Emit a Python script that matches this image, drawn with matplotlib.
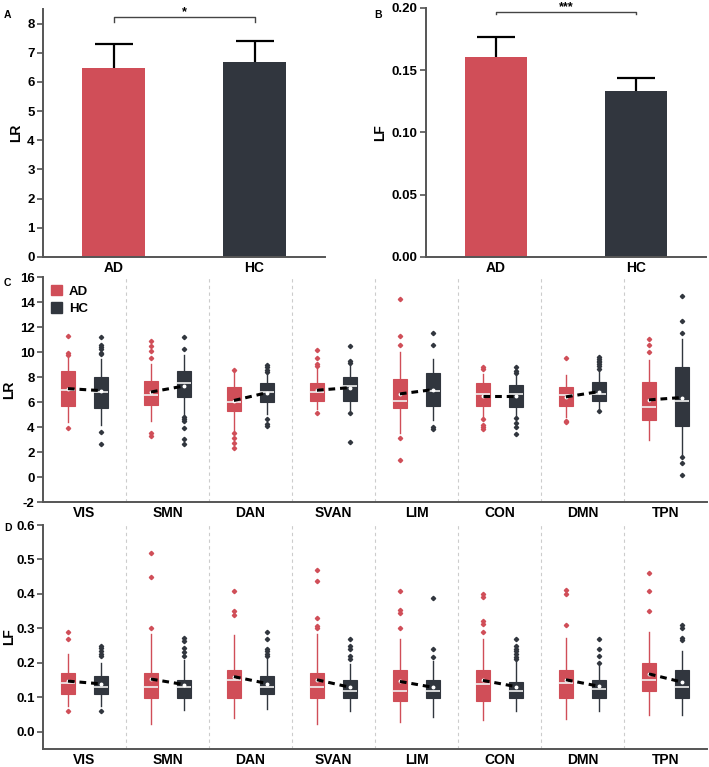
import matplotlib
matplotlib.use("Agg")
import matplotlib.pyplot as plt
from matplotlib.patches import Patch
import numpy as np

plt.rcParams['font.family'] = ['Liberation Sans', 'DejaVu Sans']
plt.rcParams['font.weight'] = 'bold'

AD_COLOR = '#D04E58'
HC_COLOR = '#31363E'

groups = ['AD', 'HC']
networks = ['VIS', 'SMN', 'DAN', 'SVAN', 'LIM', 'CON', 'DMN', 'TPN']

# Panel A / B bar values (mean, error)
lr_mean = [6.48, 6.70]
lr_err = [0.82, 0.72]
lf_mean = [0.161, 0.133]
lf_err = [0.016, 0.011]

# Panel C (LR) box stats per network: [whislo, q1, med, q3, whishi, mean]
lr_ad_stats = [
    [4.4, 5.67, 6.99, 8.50, 9.5, 7.07],
    [4.48, 5.77, 6.59, 7.68, 9.05, 6.80],
    [3.76, 5.30, 6.04, 7.20, 8.50, 6.12],
    [5.48, 6.09, 6.80, 7.52, 8.66, 6.94],
    [3.5, 5.56, 6.12, 7.84, 10.0, 6.65],
    [4.69, 5.72, 6.67, 7.52, 8.26, 6.49],
    [4.82, 5.69, 6.57, 7.20, 8.13, 6.41],
    [2.97, 4.56, 5.61, 7.60, 9.37, 6.17],
]
lr_ad_fliers = [
    [11.28, 9.9, 9.77, 3.92],
    [10.85, 10.48, 10.06, 9.56, 3.55, 3.29],
    [8.55, 3.50, 3.13, 2.76, 2.33],
    [10.16, 9.56, 9.05, 8.89, 5.14],
    [14.26, 11.28, 10.56, 3.13, 1.38],
    [8.81, 8.63, 4.61, 4.16, 4.03, 3.87],
    [9.56, 4.50, 4.42],
    [11.04, 10.53, 10.03],
]
lr_hc_stats = [
    [4.16, 5.53, 6.83, 7.97, 9.45, 6.91],
    [4.87, 6.43, 7.54, 8.52, 9.77, 7.28],
    [5.08, 5.98, 6.83, 7.54, 8.31, 6.75],
    [5.35, 6.12, 7.25, 7.97, 9.05, 7.15],
    [4.56, 5.69, 6.86, 8.31, 9.45, 6.99],
    [4.82, 5.61, 6.65, 7.33, 8.26, 6.49],
    [5.27, 6.09, 6.67, 7.60, 8.52, 6.83],
    [1.65, 4.08, 6.12, 8.84, 11.04, 6.36],
]
lr_hc_fliers = [
    [11.17, 10.56, 10.43, 10.27, 9.9, 9.82, 3.6, 2.62],
    [11.17, 10.24, 4.77, 4.63, 4.48, 3.92, 3.05, 2.62],
    [8.97, 8.79, 8.60, 8.44, 4.66, 4.24, 4.08],
    [10.45, 9.32, 9.16, 5.14, 2.84],
    [11.51, 10.56, 4.03, 3.81],
    [8.84, 8.52, 8.31, 4.74, 4.34, 4.03, 3.42],
    [9.58, 9.45, 9.32, 9.19, 9.06, 8.92, 8.66, 5.27],
    [14.48, 12.52, 11.51, 1.59, 1.12, 0.16],
]

# Panel D (LF) box stats per network: [whislo, q1, med, q3, whishi, mean]
lf_ad_stats = [
    [0.075, 0.110, 0.141, 0.170, 0.227, 0.147],
    [0.023, 0.098, 0.131, 0.170, 0.283, 0.153],
    [0.039, 0.098, 0.149, 0.180, 0.280, 0.160],
    [0.022, 0.098, 0.130, 0.170, 0.283, 0.151],
    [0.028, 0.089, 0.119, 0.179, 0.269, 0.146],
    [0.035, 0.089, 0.139, 0.179, 0.269, 0.149],
    [0.037, 0.098, 0.141, 0.180, 0.271, 0.151],
    [0.049, 0.118, 0.149, 0.200, 0.289, 0.168],
]
lf_ad_fliers = [
    [0.289, 0.270, 0.060],
    [0.518, 0.449, 0.300],
    [0.409, 0.351, 0.338],
    [0.468, 0.438, 0.329, 0.307, 0.301],
    [0.409, 0.353, 0.346, 0.300],
    [0.399, 0.390, 0.320, 0.313, 0.289],
    [0.410, 0.399, 0.309],
    [0.460, 0.409, 0.350],
]
lf_hc_stats = [
    [0.075, 0.110, 0.131, 0.161, 0.201, 0.139],
    [0.062, 0.098, 0.131, 0.149, 0.208, 0.137],
    [0.067, 0.110, 0.131, 0.161, 0.210, 0.140],
    [0.060, 0.098, 0.119, 0.149, 0.198, 0.129],
    [0.044, 0.098, 0.119, 0.149, 0.205, 0.129],
    [0.060, 0.098, 0.119, 0.144, 0.205, 0.131],
    [0.060, 0.098, 0.123, 0.150, 0.190, 0.132],
    [0.050, 0.098, 0.129, 0.180, 0.234, 0.144],
]
lf_hc_fliers = [
    [0.250, 0.242, 0.234, 0.226, 0.219, 0.060],
    [0.271, 0.264, 0.242, 0.232, 0.220],
    [0.289, 0.270, 0.241, 0.234, 0.227, 0.220],
    [0.270, 0.250, 0.241, 0.219, 0.212],
    [0.388, 0.240, 0.218],
    [0.270, 0.250, 0.241, 0.234, 0.226, 0.218, 0.210],
    [0.270, 0.240, 0.220, 0.199],
    [0.309, 0.302, 0.272, 0.265],
]

W, H = 709, 767
fig = plt.figure(figsize=(W / 100, H / 100), dpi=100)


def rect(l, r, t, b):
    return [l / W, 1 - b / H, (r - l) / W, (b - t) / H]


SPINE = '#555555'


def style(ax):
    for s in ['top', 'right']:
        ax.spines[s].set_visible(False)
    for s in ['left', 'bottom']:
        ax.spines[s].set_color(SPINE)
        ax.spines[s].set_linewidth(1.4)
    ax.tick_params(axis='y', length=4, width=1.2, color=SPINE, labelsize=9.5, pad=2)
    ax.tick_params(axis='x', length=0, labelsize=10, pad=3)
    for t in ax.get_yticklabels() + ax.get_xticklabels():
        t.set_fontweight('bold')


def bar_panel(ax, means, errs, ylim, yticks, fmt, ylabel, stars, br_y, br_d, star_y):
    x = np.arange(len(groups))
    ax.bar(x, means, width=0.44, color=[AD_COLOR, HC_COLOR], zorder=2)
    ax.errorbar(x, means, yerr=errs, fmt='none',
                ecolor='black', elinewidth=1.6, capsize=13.5, capthick=1.6, zorder=1)
    ax.set_xlim(-0.5, 1.5)
    ax.set_ylim(*ylim)
    ax.set_yticks(yticks)
    ax.set_yticklabels([fmt.format(v) for v in yticks])
    ax.set_xticks(x)
    ax.set_xticklabels(groups)
    ax.set_ylabel(ylabel, fontsize=10, fontweight='bold', labelpad=3)
    ax.plot([0, 0, 1, 1], [br_y - br_d, br_y, br_y, br_y - br_d], color='#444444',
            lw=1.0, clip_on=False)
    ax.text(0.5, star_y, stars, ha='center', va='center', fontsize=9,
            fontweight='bold', clip_on=False)
    style(ax)


axA = fig.add_axes(rect(43, 325, 9, 257))
bar_panel(axA, lr_mean, lr_err, (0, 8.5), list(range(0, 9)), '{:d}', 'LR', '*',
          8.22, 0.17, 8.38)
axB = fig.add_axes(rect(426, 706, 8, 257))
bar_panel(axB, lf_mean, lf_err, (0, 0.2), [0, 0.05, 0.10, 0.15, 0.20], '{:.2f}', 'LF', '***',
          0.197, 0.0017, 0.2005)


def make_stats(stats, fliers):
    out = []
    for s, f in zip(stats, fliers):
        out.append(dict(whislo=s[0], q1=s[1], med=s[2], q3=s[3], whishi=s[4],
                        mean=s[5], fliers=f))
    return out


def box_panel(ax, ad_stats, ad_fl, hc_stats, hc_fl, ylim, yticks, fmt, ylabel):
    n = len(networks)
    pos = np.arange(n)
    for i in range(n - 1):
        ax.axvline(i + 0.5, color='#CCCCCC', lw=0.8, ls=(0, (3, 3)), zorder=0)
    for stats, fl, off, col in [(ad_stats, ad_fl, -0.2, AD_COLOR),
                                (hc_stats, hc_fl, 0.2, HC_COLOR)]:
        ax.bxp(make_stats(stats, fl), positions=pos + off, widths=0.17,
               patch_artist=True, showmeans=True, showcaps=False,
               boxprops=dict(facecolor=col, edgecolor=col, linewidth=0.8),
               whiskerprops=dict(color=col, linewidth=1.0),
               medianprops=dict(color='#F2F2F2', linewidth=1.2),
               meanprops=dict(marker='o', markerfacecolor='white',
                              markeredgecolor='white', markersize=1.8),
               flierprops=dict(marker='D', markerfacecolor=col, markeredgecolor=col,
                               markersize=2.2))
    for i in range(n):
        ax.plot([pos[i] - 0.2, pos[i] + 0.2], [ad_stats[i][5], hc_stats[i][5]],
                color='black', lw=2.2, ls=(0, (2.2, 1.6)), zorder=5)
    ax.set_xlim(-0.5, n - 0.5)
    ax.set_ylim(*ylim)
    ax.set_yticks(yticks)
    ax.set_yticklabels([fmt.format(v) for v in yticks])
    ax.set_xticks(pos)
    ax.set_xticklabels(networks)
    ax.set_ylabel(ylabel, fontsize=10, fontweight='bold')
    style(ax)
    ax.yaxis.set_label_coords((16.0 - 43.0) / (707 - 43), 0.5)


axC = fig.add_axes(rect(43, 707, 277, 502))
box_panel(axC, lr_ad_stats, lr_ad_fliers, lr_hc_stats, lr_hc_fliers,
          (-2, 16), list(range(-2, 17, 2)), '{:d}', 'LR')
handles = [Patch(facecolor=AD_COLOR, edgecolor=AD_COLOR, label='AD'),
           Patch(facecolor=HC_COLOR, edgecolor=HC_COLOR, label='HC')]
leg = axC.legend(handles=handles, loc='upper left', frameon=False,
                 prop=dict(size=9.5, weight='bold'), handlelength=0.85, handleheight=0.85,
                 handletextpad=0.5, labelspacing=0.35, borderaxespad=0.2,
                 bbox_to_anchor=(0.0, 1.0))

axD = fig.add_axes(rect(43, 707, 525, 749))
box_panel(axD, lf_ad_stats, lf_ad_fliers, lf_hc_stats, lf_hc_fliers,
          (-0.05, 0.6), [0.0, 0.1, 0.2, 0.3, 0.4, 0.5, 0.6], '{:.1f}', 'LF')

for lab, x, y in [('A', 4, 15), ('B', 374, 15), ('C', 4, 283), ('D', 4, 528)]:
    fig.text(x / W, 1 - y / H, lab, fontsize=7.5, fontweight='bold', ha='left', va='center')

fig.savefig('out.png', dpi=100)
